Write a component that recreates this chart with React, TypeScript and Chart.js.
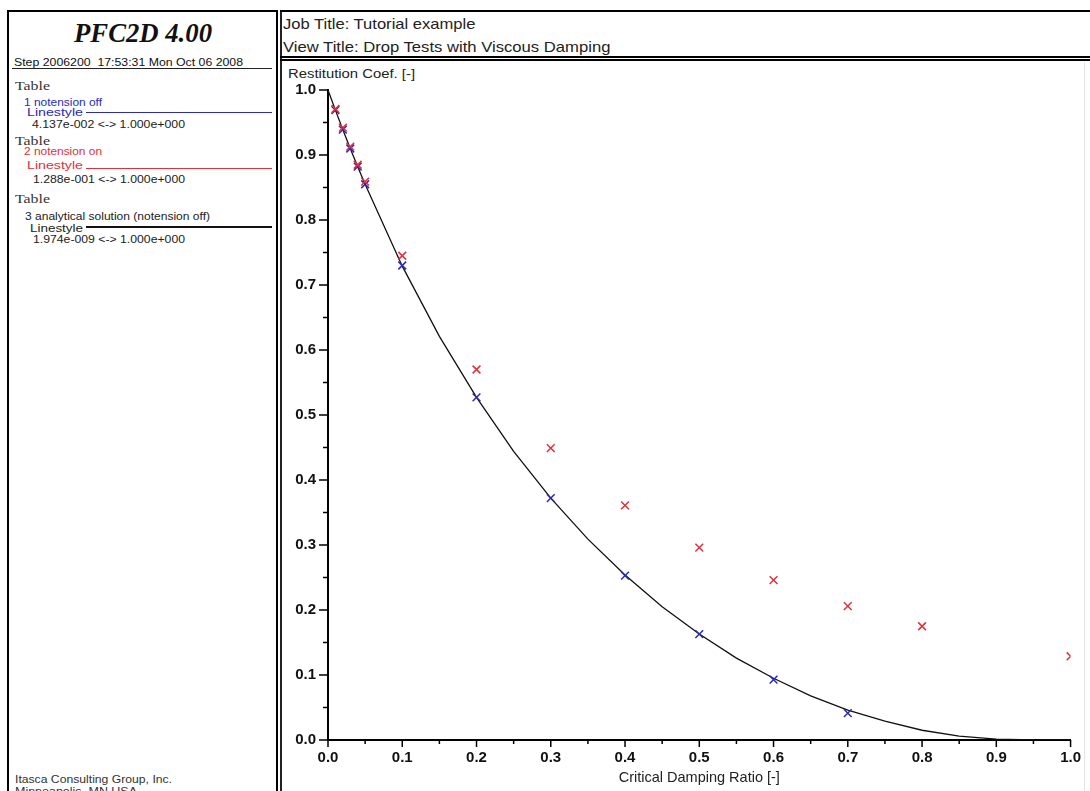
import React, { useEffect, useRef } from "react";
import { Chart, registerables } from "chart.js";

Chart.register(...registerables);

// ---------- data ----------
const blueX = [0.01, 0.02, 0.03, 0.04, 0.05, 0.1, 0.2, 0.3, 0.4, 0.5, 0.6, 0.7];
const blueY = [0.969, 0.939, 0.91, 0.882, 0.855, 0.73, 0.527, 0.372, 0.253, 0.163, 0.093, 0.0414];

const redX = [0.01, 0.02, 0.03, 0.04, 0.05, 0.1, 0.2, 0.3, 0.4, 0.5, 0.6, 0.7, 0.8, 1.0];
const redY = [0.971, 0.942, 0.913, 0.885, 0.859, 0.745, 0.57, 0.449, 0.361, 0.296, 0.246, 0.206, 0.175, 0.1288];

const lineX = [0, 0.01, 0.02, 0.03, 0.04, 0.05, 0.1, 0.15, 0.2, 0.25, 0.3, 0.35, 0.4, 0.45, 0.5, 0.55, 0.6, 0.65, 0.7, 0.75, 0.8, 0.85, 0.9, 0.95, 1.0];
const lineY = [1.0, 0.969, 0.939, 0.91, 0.882, 0.855, 0.729, 0.621, 0.527, 0.444, 0.372, 0.309, 0.254, 0.205, 0.163, 0.126, 0.095, 0.068, 0.046, 0.029, 0.015, 0.006, 0.0015, 0.0002, 0.000000002];

const majorTicks = [0, 0.1, 0.2, 0.3, 0.4, 0.5, 0.6, 0.7, 0.8, 0.9, 1.0];
const tickLabels = ["0.0", "0.1", "0.2", "0.3", "0.4", "0.5", "0.6", "0.7", "0.8", "0.9", "1.0"];
const minorTicks = [0.05, 0.15, 0.25, 0.35, 0.45, 0.55, 0.65, 0.75, 0.85, 0.95];

const SANS = "'Liberation Sans', Arial, sans-serif";
const SERIF = "'Liberation Serif', 'Times New Roman', serif";

const BLUE = "#2a2ab8";
const RED = "#e0303c";

// ---------- text helper ----------
let measureCtx: CanvasRenderingContext2D | null = null;
function measure(text: string, font: string) {
  if (!measureCtx) measureCtx = document.createElement("canvas").getContext("2d");
  measureCtx!.font = font;
  return measureCtx!.measureText(text).width;
}

type FTProps = {
  text: string;
  x: number;
  base: number;
  w: number;
  size: number;
  serif?: boolean;
  bold?: boolean;
  italic?: boolean;
  color?: string;
};

function FitText({ text, x, base, w, size, serif, bold, italic, color = "#111" }: FTProps) {
  const fam = serif ? SERIF : SANS;
  const font = `${italic ? "italic" : "normal"} ${bold ? "bold" : "normal"} ${size}px ${fam}`;
  const mw = measure(text, font) || w;
  const k = w / mw;
  const asc = serif ? 0.8375 : 0.8465;
  const top = base - asc * size;
  return (
    <div
      style={{
        position: "absolute",
        left: x,
        top,
        fontFamily: fam,
        fontSize: size,
        fontWeight: bold ? "bold" : "normal",
        fontStyle: italic ? "italic" : "normal",
        lineHeight: `${size}px`,
        whiteSpace: "pre",
        color,
        transform: `scaleX(${k})`,
        transformOrigin: "left top",
      }}
    >
      {text}
    </div>
  );
}

function Rect({ x, y, w, h, c = "#000" }: { x: number; y: number; w: number; h: number; c?: string }) {
  return <div style={{ position: "absolute", left: x, top: y, width: w, height: h, background: c }} />;
}

// ---------- tick plugin ----------
const tickPlugin = {
  id: "tickMarks",
  afterDraw(chart: any) {
    const { ctx } = chart;
    const xs = chart.scales.x;
    const ys = chart.scales.y;
    ctx.save();
    ctx.strokeStyle = "#000";
    ctx.lineWidth = 1.5;
    const draw = (v: number, major: boolean) => {
      const px = xs.getPixelForValue(v);
      ctx.beginPath();
      ctx.moveTo(px, xs.top);
      ctx.lineTo(px, xs.top + (major ? 7 : 4));
      ctx.stroke();
      const py = ys.getPixelForValue(v);
      ctx.beginPath();
      ctx.moveTo(ys.right, py);
      ctx.lineTo(ys.right - (major ? 9 : 5), py);
      ctx.stroke();
    };
    majorTicks.forEach((v) => draw(v, true));
    minorTicks.forEach((v) => draw(v, false));
    ctx.restore();
  },
};

function PlotCanvas() {
  const ref = useRef<HTMLCanvasElement>(null);
  useEffect(() => {
    if (!ref.current) return;
    const chart = new Chart(ref.current, {
      type: "scatter",
      data: {
        datasets: [
          {
            label: "3 analytical solution (notension off)",
            data: lineX.map((x, i) => ({ x, y: lineY[i] })),
            showLine: true,
            borderColor: "#111",
            borderWidth: 1.3,
            pointRadius: 0,
            tension: 0,
            order: 3,
            clip: 0,
          },
          {
            label: "1 notension off",
            data: blueX.map((x, i) => ({ x, y: blueY[i] })),
            showLine: false,
            pointStyle: "crossRot",
            pointRadius: 5.5,
            borderColor: BLUE,
            backgroundColor: BLUE,
            pointBorderWidth: 1.5,
            order: 2,
            clip: 0,
          },
          {
            label: "2 notension on",
            data: redX.map((x, i) => ({ x, y: redY[i] })),
            showLine: false,
            pointStyle: "crossRot",
            pointRadius: 5.5,
            borderColor: RED,
            backgroundColor: RED,
            pointBorderWidth: 1.5,
            order: 1,
            clip: 0,
          },
        ] as any,
      },
      options: {
        animation: false,
        responsive: true,
        maintainAspectRatio: false,
        events: [],
        layout: { padding: { left: 0, top: 28, right: 19, bottom: 0 } },
        plugins: {
          legend: { display: false },
          tooltip: { enabled: false },
          title: { display: false },
        },
        scales: {
          x: {
            type: "linear",
            min: 0,
            max: 1,
            afterBuildTicks: (s: any) => {
              s.ticks = majorTicks.map((v) => ({ value: v }));
            },
            afterFit: (s: any) => {
              s.height = 51;
            },
            grid: { drawOnChartArea: false, drawTicks: false },
            border: { display: true, color: "#000", width: 2 },
            ticks: {
              padding: 9,
              color: "#111",
              font: { family: SANS, size: 15, weight: "bold" },
              autoSkip: false,
              maxRotation: 0,
              callback: (_v: any, i: number) => tickLabels[i],
            },
            title: {
              display: true,
              text: "Critical Damping Ratio [-]",
              color: "#222",
              font: { family: SANS, size: 14.5 },
              padding: { top: 0, bottom: 4 },
            },
          },
          y: {
            type: "linear",
            min: 0,
            max: 1,
            afterBuildTicks: (s: any) => {
              s.ticks = majorTicks.map((v) => ({ value: v }));
            },
            afterFit: (s: any) => {
              s.width = 48;
            },
            grid: { drawOnChartArea: false, drawTicks: false },
            border: { display: true, color: "#000", width: 2 },
            ticks: {
              padding: 12,
              color: "#111",
              font: { family: SANS, size: 15, weight: "bold" },
              autoSkip: false,
              callback: (_v: any, i: number) => tickLabels[i],
            },
          },
        },
      } as any,
      plugins: [tickPlugin],
    });
    return () => chart.destroy();
  }, []);
  return (
    <div style={{ position: "absolute", left: 280, top: 62, width: 810, height: 729 }}>
      <canvas ref={ref} />
    </div>
  );
}

export default function App() {
  return (
    <div
      style={{
        position: "fixed",
        left: 0,
        top: 0,
        width: 1090,
        height: 791,
        overflow: "hidden",
        background: "#fff",
      }}
    >
      {/* left panel frame */}
      <Rect x={7} y={10} w={2} h={800} />
      <Rect x={7} y={10} w={271} h={2} />
      <Rect x={276} y={10} w={2} h={800} />
      {/* right panel frame */}
      <Rect x={280} y={10} w={2} h={800} c="#222" />
      <Rect x={280} y={10} w={820} h={2} />
      <Rect x={280} y={56} w={820} h={2} />
      <Rect x={280} y={59} w={820} h={2} />
      <Rect x={1084} y={62} w={1} h={740} c="#e4e4e4" />

      {/* left header */}
      <FitText text="PFC2D 4.00" x={74} base={43} w={138} size={27} serif bold italic color="#111" />
      <FitText text="Step 2006200  17:53:31 Mon Oct 06 2008" x={14} base={66} w={229} size={10.5} />
      <Rect x={12} y={67.5} w={260} h={1.5} c="#222" />

      {/* legend entries */}
      <FitText text="Table" x={15} base={90} w={35} size={12.5} serif color="#333" />
      <FitText text="1 notension off" x={24} base={106} w={78} size={10.5} color={BLUE} />
      <FitText text="Linestyle" x={27} base={116} w={56} size={10.5} color={BLUE} />
      <Rect x={86} y={111.5} w={186} h={1.6} c={BLUE} />
      <FitText text="4.137e-002 <-> 1.000e+000" x={32} base={128} w={153} size={10.5} color="#222" />

      <FitText text="Table" x={15} base={145} w={35} size={12.5} serif color="#333" />
      <FitText text="2 notension on" x={24} base={155} w={78} size={10.5} color={RED} />
      <FitText text="Linestyle" x={27} base={169} w={56} size={10.5} color={RED} />
      <Rect x={86} y={167.5} w={186} h={1.6} c={RED} />
      <FitText text="1.288e-001 <-> 1.000e+000" x={33} base={183} w={152} size={10.5} color="#222" />

      <FitText text="Table" x={15} base={203} w={35} size={12.5} serif color="#333" />
      <FitText text="3 analytical solution (notension off)" x={25} base={220} w={185} size={10.5} color="#222" />
      <FitText text="Linestyle" x={30} base={232} w={53} size={10.5} color="#222" />
      <Rect x={86} y={226} w={186} h={1.6} c="#111" />
      <FitText text="1.974e-009 <-> 1.000e+000" x={33} base={243} w={152} size={10.5} color="#222" />

      {/* bottom-left credits */}
      <FitText text="Itasca Consulting Group, Inc." x={15} base={783} w={157} size={10} color="#333" />
      <FitText text="Minneapolis, MN USA" x={15} base={795} w={122} size={10} color="#333" />

      {/* right header */}
      <FitText text="Job Title: Tutorial example" x={283} base={29} w={193} size={14.5} color="#222" />
      <FitText text="View Title: Drop Tests with Viscous Damping" x={283} base={52} w={328} size={14.5} color="#222" />
      <FitText text="Restitution Coef. [-]" x={288} base={78} w={127} size={12} color="#222" />

      <PlotCanvas />
    </div>
  );
}
